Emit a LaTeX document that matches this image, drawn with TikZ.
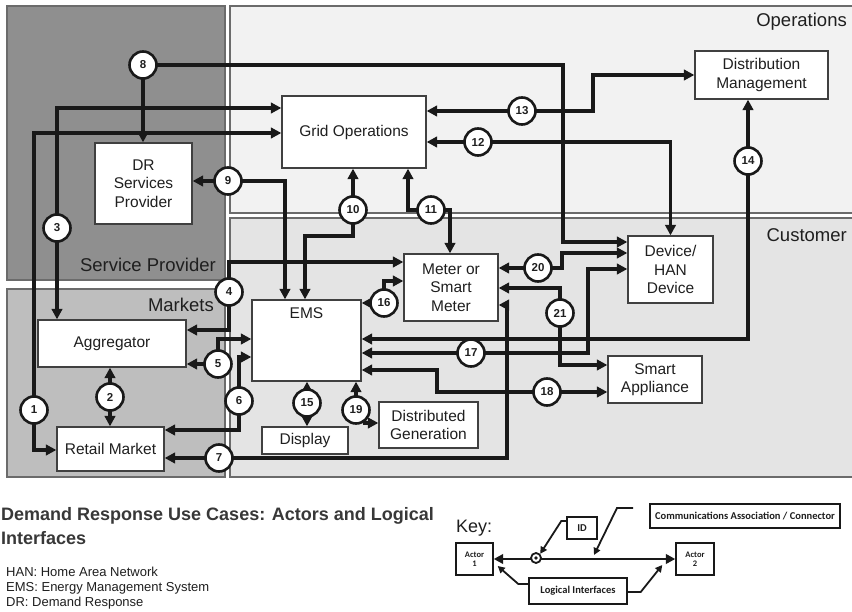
\documentclass[tikz,border=0pt]{standalone}
\usepackage{fontspec}
\setmainfont{Liberation Sans}
\newfontfamily\keyfont{Carlito}
\usetikzlibrary{arrows.meta,calc}
\definecolor{spgray}{gray}{0.56}
\definecolor{mktgray}{gray}{0.745}
\definecolor{opsgray}{gray}{0.95}
\definecolor{custgray}{gray}{0.895}
\definecolor{panelborder}{gray}{0.42}
\definecolor{boxborder}{gray}{0.25}
\definecolor{ln}{gray}{0.1}
\definecolor{txt}{gray}{0.12}
\definecolor{titlecol}{gray}{0.22}
\begin{document}
\begin{tikzpicture}[x=1pt,y=-1pt,
  panel/.style={draw=panelborder,line width=1.3pt},
  paneltext/.style={text=txt,font=\fontsize{18.5}{22}\selectfont,inner sep=0pt},
  box/.style={draw=boxborder,fill=white,line width=1.3pt,align=center,text=txt,
    font=\fontsize{15.5}{18.5}\selectfont,inner sep=0pt},
  num/.style={circle,draw=ln,fill=white,line width=2.6pt,minimum size=27pt,inner sep=0pt,
    text=txt,font=\bfseries\fontsize{11.5}{12}\selectfont},
  conn/.style={draw=ln,line width=3.1pt,-{Triangle[length=10.5pt,width=10.5pt]}},
  keybox/.style={draw=ln,fill=white,line width=1.4pt,align=center,inner sep=0pt,
    text=txt,font=\keyfont\bfseries\fontsize{10.5}{11}\selectfont},
  keyarrow/.style={draw=ln,line width=1.8pt,-{Triangle[length=7pt,width=7pt]}}
]
\useasboundingbox (0,0) rectangle (852,612);
\fill[white] (0,0) rectangle (852,612);

% panels
\draw[panel,fill=spgray] (7,6) rectangle (225,280);
\draw[panel,fill=opsgray] (230,6) rectangle (854,213);
\draw[panel,fill=custgray] (230,218) rectangle (854,477);
\draw[panel,fill=mktgray] (7,289) rectangle (225,477);
\node[paneltext,anchor=east] (lops) at (847,22) {Operations};
\node[paneltext,anchor=east] (lcust) at (847,235) {Customer};
\node[paneltext,anchor=east] (lsp) at (216,265) {Service Provider};
\node[paneltext,anchor=east] (lmkt) at (214,305) {Markets};

% actor boxes
\node[box,minimum width=144pt,minimum height=72pt] (grid) at (354,132) {Grid Operations};
\node[box,minimum width=133pt,minimum height=48pt] (dist) at (761.5,75) {Distribution\\Management};
\node[box,minimum width=97pt,minimum height=81pt] (drsp) at (143.5,183.5) {DR\\Services\\Provider};
\node[box,minimum width=148pt,minimum height=47pt] (agg) at (112,343.5) {Aggregator};
\node[box,minimum width=107pt,minimum height=44pt] (retail) at (110.5,449) {Retail Market};
\node[box,minimum width=109pt,minimum height=81pt,
  label={[text=txt,font=\fontsize{15.5}{18.5}\selectfont,anchor=north,inner sep=0pt,yshift=-8pt]north:EMS}] (ems) at (306.5,340.5) {};
\node[box,minimum width=94pt,minimum height=67pt] (meter) at (451,287.5) {Meter or\\Smart\\Meter};
\node[box,minimum width=86pt,minimum height=27pt] (display) at (305,440.5) {Display};
\node[box,minimum width=99pt,minimum height=46pt] (dg) at (428.5,425) {Distributed\\Generation};
\node[box,minimum width=85pt,minimum height=67pt] (device) at (670.5,269.5) {Device/\\HAN\\Device};
\node[box,minimum width=94pt,minimum height=47pt] (appl) at (655,379.5) {Smart\\Appliance};

% numbered circle coordinates
\coordinate (p1) at (34,410);
\coordinate (p2) at (110,397);
\coordinate (p3) at (57,228);
\coordinate (p4) at (229,292);
\coordinate (p5) at (218,364);
\coordinate (p6) at (239,401);
\coordinate (p7) at (219,458);
\coordinate (p8) at (143,65);
\coordinate (p9) at (228,181);
\coordinate (p10) at (353,210);
\coordinate (p11) at (431,210);
\coordinate (p12) at (478,142);
\coordinate (p13) at (522,111);
\coordinate (p14) at (748,161);
\coordinate (p15) at (307,403);
\coordinate (p16) at (384,303);
\coordinate (p17) at (471,353);
\coordinate (p18) at (547,392);
\coordinate (p19) at (356,410);
\coordinate (p20) at (538,268);
\coordinate (p21) at (560,313);

% connectors
\draw[conn] (p1) |- (grid.west |- 0,133);
\draw[conn] (p1) |- (retail.west |- 0,450);
\draw[conn] (p2) -- (p2 |- agg.south);
\draw[conn] (p2) -- (p2 |- retail.north);
\draw[conn] (p3) |- (grid.west |- 0,108);
\draw[conn] (p3) -- (p3 |- agg.north);
\draw[conn] (p4) |- (meter.west |- 0,262);
\draw[conn] (p4) |- (agg.east |- 0,330);
\draw[conn] (p5) -- (p5 -| agg.east);
\draw[conn] (p5) |- (ems.west |- 0,339);
\draw[conn] (p6) |- (ems.west |- 0,357);
\draw[conn] (p6) |- (retail.east |- 0,430);
\draw[conn] (p7) -- (p7 -| retail.east);
\draw[conn] (p7) -| (507,305) -- (meter.east |- 0,305);
\draw[conn] (p8) -- (p8 |- drsp.north);
\draw[conn] (p8) -| (563,242) -- (device.west |- 0,242);
\draw[conn] (p9) -- (p9 -| drsp.east);
\draw[conn] (p9) -| (285,0 |- ems.north);
\draw[conn] (p10) -- (p10 |- grid.south);
\draw[conn] (p10) -- (353,236) -| (305,0 |- ems.north);
\draw[conn] (p11) -| (408,0 |- grid.south);
\draw[conn] (p11) -| (450,0 |- meter.north);
\draw[conn] (p12) -- (p12 -| grid.east);
\draw[conn] (p12) -| (device.north);
\draw[conn] (p13) -- (p13 -| grid.east);
\draw[conn] (p13) -- (593,111) |- (dist.west);
\draw[conn] (p14) -- (p14 |- dist.south);
\draw[conn] (p14) |- (ems.east |- 0,339);
\draw[conn] (p15) -- (p15 |- ems.south);
\draw[conn] (p15) -- (p15 |- display.north);
\draw[conn] (p16) |- (meter.west |- 0,281);
\draw[conn] (p16) -- (p16 -| ems.east);
\draw[conn] (p17) -- (p17 -| ems.east);
\draw[conn] (p17) -| (588,269) -- (device.west |- 0,269);
\draw[conn] (p18) -- (p18 -| appl.west);
\draw[conn] (p18) -| (437,370) -- (ems.east |- 0,370);
\draw[conn] (p19) -- (p19 |- ems.south);
\draw[conn] (363,423) -- (dg.west |- 0,423);
\draw[conn] (p20) -- (p20 -| meter.east);
\draw[conn] (p20) -| (562,253) -- (device.west |- 0,253);
\draw[conn] (p21) |- (meter.east |- 0,288);
\draw[conn] (p21) |- (appl.west |- 0,365);

% numbered circles
\foreach \i in {1,...,21} {\node[num] (c\i) at (p\i) {\i};}

% caption
\node[anchor=west,inner sep=0pt,text=titlecol,font=\bfseries\fontsize{18}{22}\selectfont] (title1) at (1,516) {Demand Response Use Cases: Actors and Logical};
\node[anchor=west,inner sep=0pt,text=titlecol,font=\bfseries\fontsize{18}{22}\selectfont] (title2) at (1,538) {Interfaces};
\node[anchor=west,inner sep=0pt,text=txt,font=\fontsize{13}{15}\selectfont] (ab1) at (6,572) {HAN: Home Area Network};
\node[anchor=west,inner sep=0pt,text=txt,font=\fontsize{13}{15}\selectfont] (ab2) at (6,588) {EMS: Energy Management System};
\node[anchor=west,inner sep=0pt,text=txt,font=\fontsize{13}{15}\selectfont] (ab3) at (6,603) {DR: Demand Response};

% key
\node[anchor=west,inner sep=0pt,text=txt,font=\fontsize{18}{20}\selectfont] (keylbl) at (456,528) {Key:};
\node[keybox,minimum width=37pt,minimum height=32pt,font=\keyfont\bfseries\fontsize{8.5}{9.5}\selectfont] (actor1) at (474.5,559) {Actor\\1};
\node[keybox,minimum width=38pt,minimum height=32pt,font=\keyfont\bfseries\fontsize{8.5}{9.5}\selectfont] (actor2) at (695,559) {Actor\\2};
\node[keybox,minimum width=30pt,minimum height=22pt] (idbox) at (582,528) {ID};
\node[keybox,minimum width=190pt,minimum height=24pt] (commbox) at (745,516) {Communications Association / Connector};
\node[keybox,minimum width=98pt,minimum height=26pt] (logic) at (578,591) {Logical Interfaces};
\draw[draw=ln,line width=2.8pt,{Triangle[length=9.5pt,width=9.5pt]}-{Triangle[length=9.5pt,width=9.5pt]}] (actor1.east) -- (actor2.west);
\node[circle,draw=ln,fill=white,line width=1.8pt,minimum size=10pt,inner sep=0pt] (kc) at (536,558) {};
\fill[ln] (kc) circle (1.8pt);
\coordinate (commfree) at (633,508);
\coordinate (commtip) at (594,555);
\draw[keyarrow] (idbox.west |- 0,521) -- ++(-5,0) -- (kc.north east);
\draw[keyarrow] (commfree) -- (617,508) -- (commtip);
\draw[keyarrow] (logic.west |- 0,584) -- ++(-10,0) -- ($(actor1.east)+(4,7)$);
\draw[keyarrow] (logic.east |- 0,592) -- ++(13,0) -- ($(actor2.west)+(-13,6)$);
\end{tikzpicture}
\end{document}
